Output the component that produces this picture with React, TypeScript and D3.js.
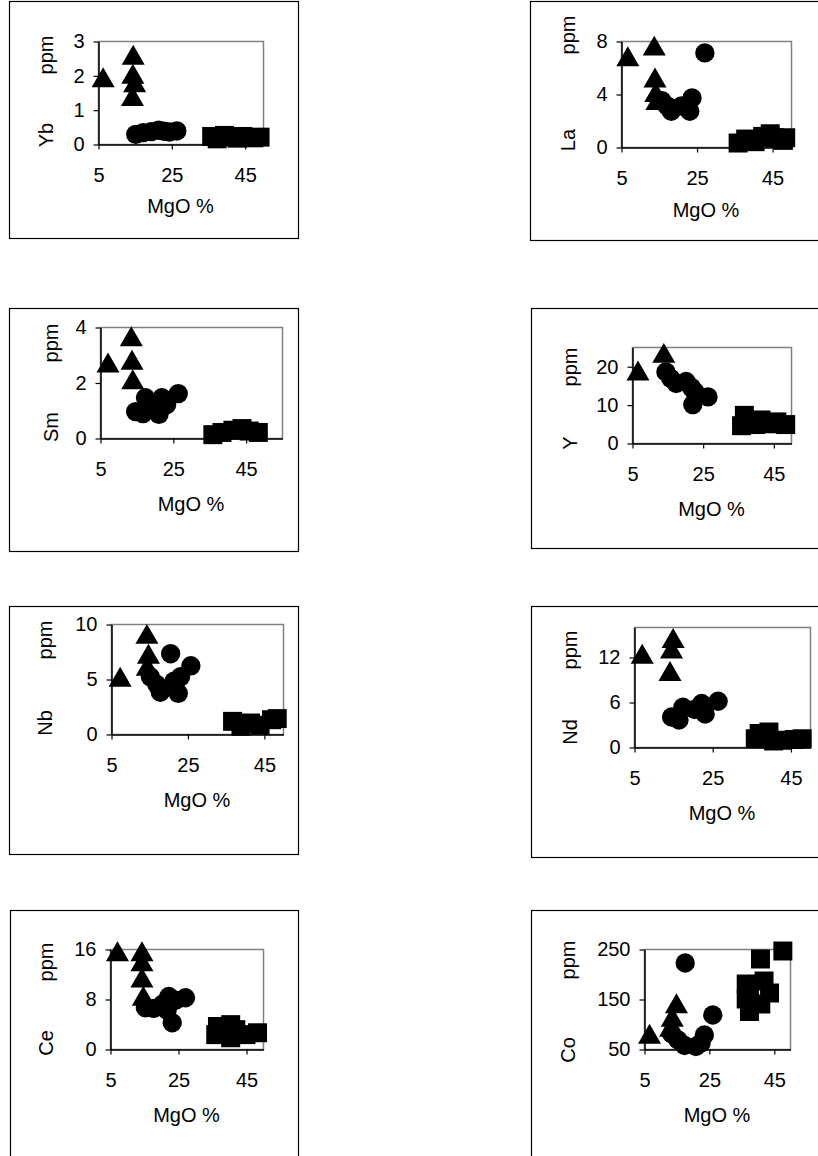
import React, { useEffect, useRef } from 'react';
import * as d3 from 'd3';

// [MgO %, ppm] pairs
const ybTriangles = [[6.4, 1.85], [14.6, 2.5], [14.5, 1.95], [15, 1.7], [14.4, 1.3]];
const ybCircles = [[15.3, 0.28], [17.3, 0.33], [19.5, 0.36], [21.5, 0.4], [23, 0.37], [24.5, 0.35], [26.5, 0.38]];
const ybSquares = [[36, 0.22], [37.5, 0.15], [39.5, 0.25], [41.5, 0.2], [43, 0.17], [44.5, 0.22], [47.5, 0.18], [49.2, 0.2]];

const laTriangles = [[6.8, 6.6], [13.8, 7.4], [14, 5.0], [14.2, 3.9], [14.5, 3.3]];
const laCircles = [[15.8, 3.5], [17.2, 3.1], [18.3, 2.7], [21, 3.1], [23.2, 2.7], [23.8, 3.7], [27.2, 7.1]];
const laSquares = [[36, 0.3], [38, 0.6], [40.5, 0.4], [42.5, 0.8], [44.5, 1.0], [45.5, 0.7], [48, 0.5], [48.6, 0.7]];

const smTriangles = [[7.2, 2.6], [13.6, 3.55], [13.8, 2.7], [14, 2.0]];
const smCircles = [[14.8, 0.95], [16.8, 0.88], [17.5, 1.45], [19.5, 1.2], [21.2, 0.85], [22, 1.45], [23.3, 1.2], [26.5, 1.6]];
const smSquares = [[36, 0.12], [38.5, 0.2], [41.5, 0.28], [44, 0.34], [46, 0.25], [48.5, 0.2]];

const yTriangles = [[6.7, 18], [14, 22.6]];
const yCircles = [[14.6, 18.5], [16, 16.8], [17.5, 15.5], [20.3, 16], [21.8, 14.5], [22.8, 13.3], [22.2, 10], [26.5, 12]];
const ySquares = [[36, 4.5], [36.8, 7.2], [38, 5.5], [40, 4.8], [41.5, 6], [43.6, 5], [46, 5.5], [48.5, 4.8]];

const nbTriangles = [[7.4, 4.9], [14.4, 8.8], [14.8, 7.0], [14.5, 5.9]];
const nbCircles = [[15.3, 5.2], [17, 4.5], [17.9, 3.8], [20.6, 7.3], [21.5, 4.8], [22.6, 3.7], [23.2, 5.2], [25.9, 6.2]];
const nbSquares = [[36.8, 1.15], [39, 0.7], [41.5, 1.0], [44, 0.8], [47, 1.3], [48.5, 1.4]];

const ndTriangles = [[7.1, 12], [15, 14.1], [14.6, 12.7], [14.2, 9.7]];
const ndCircles = [[14.6, 4.0], [16.5, 3.6], [17.5, 5.3], [20.5, 5.0], [22.3, 5.8], [23.2, 4.4], [26.5, 6.1]];
const ndSquares = [[36, 1.1], [37, 1.8], [39.5, 2.0], [40.7, 0.8], [42.9, 0.9], [46, 1.0], [48, 1.1]];

const ceTriangles = [[7.2, 15.1], [14.4, 15.1], [14.4, 13.5], [14.4, 10.9], [14.8, 8]];
const ceCircles = [[15.4, 6.6], [17.8, 6.5], [20.5, 7.2], [22.3, 8.4], [23.3, 4.2], [24.3, 7.8], [27.2, 8.2], [21.8, 6.2]];
const ceSquares = [[36.1, 2.3], [36.6, 3.6], [40.5, 3.9], [40.5, 1.8], [42, 3.1], [45, 2.3], [48.4, 2.6]];

const coTriangles = [[6.7, 74], [15, 135], [13.7, 108], [13.2, 88]];
const coCircles = [[17.7, 222], [26.2, 118], [13.6, 80], [15.5, 68], [17.5, 57], [21, 55], [22.6, 62], [23.6, 78]];
const coSquares = [[40.9, 230], [47.8, 246], [36.5, 180], [36.5, 150], [37.5, 125], [41, 140], [42, 186], [43.7, 162], [37.5, 165]];

const xTicks = [5, 25, 45];
const elements = ['Yb', 'La', 'Sm', 'Y', 'Nb', 'Nd', 'Ce', 'Co'];
const yDomains = [[0, 3], [0, 8], [0, 4], [0, 25], [0, 10], [0, 16], [0, 16], [50, 250]];
const yTicks = [[0, 1, 2, 3], [0, 4, 8], [0, 2, 4], [0, 10, 20], [0, 5, 10], [0, 6, 12], [0, 8, 16], [50, 150, 250]];
const xMax = [50, 50, 55, 50, 50, 50, 50, 50];
const triangles = [ybTriangles, laTriangles, smTriangles, yTriangles, nbTriangles, ndTriangles, ceTriangles, coTriangles];
const circles = [ybCircles, laCircles, smCircles, yCircles, nbCircles, ndCircles, ceCircles, coCircles];
const squares = [ybSquares, laSquares, smSquares, ySquares, nbSquares, ndSquares, ceSquares, coSquares];

// page layout of each little chart: outer box, plot area, axis title spots
const layout = [
  { box: [9, 1, 298, 238], plot: [98, 41, 263, 144], tx: 48, ppmY: 55, elY: 135, titleDy: 64 },
  { box: [530, 1, 822, 240], plot: [621, 41, 791, 147], tx: 570, ppmY: 35, elY: 140, titleDy: 65 },
  { box: [9, 308, 298, 551], plot: [100, 327, 282, 438], tx: 53, ppmY: 343, elY: 427, titleDy: 68 },
  { box: [531, 308, 822, 548], plot: [632, 347, 791, 443], tx: 572, ppmY: 367, elY: 443, titleDy: 68 },
  { box: [9, 606, 298, 854], plot: [111, 624, 283, 734], tx: 47, ppmY: 640, elY: 723, titleDy: 68 },
  { box: [531, 606, 822, 857], plot: [634, 627, 810, 747], tx: 572, ppmY: 650, elY: 732, titleDy: 68 },
  { box: [10, 910, 298, 1170], plot: [110, 949, 263, 1049], tx: 48, ppmY: 962, elY: 1043, titleDy: 68 },
  { box: [531, 910, 822, 1170], plot: [644, 949, 790, 1049], tx: 570, ppmY: 960, elY: 1050, titleDy: 68 },
];

const FONT = '"Liberation Sans", Arial, sans-serif';
const FS = 20;

const App = () => {
  const ref = useRef<SVGSVGElement | null>(null);

  useEffect(() => {
    const svg = d3.select(ref.current);
    svg.selectAll('*').remove();

    const tri = d3.symbol().type(d3.symbolTriangle).size(230)();
    const circ = d3.symbol().type(d3.symbolCircle).size(295)();
    const sq = d3.symbol().type(d3.symbolSquare).size(360)();

    elements.forEach((el, i) => {
      const L = layout[i];
      const [bx0, by0, bx1, by1] = L.box;
      const [px0, py0, px1, py1] = L.plot;

      svg.append('rect')
        .attr('x', bx0 + 0.5).attr('y', by0 + 0.5)
        .attr('width', bx1 - bx0).attr('height', by1 - by0)
        .attr('fill', '#fff').attr('stroke', '#000').attr('stroke-width', 1.2);

      const x = d3.scaleLinear().domain([5, xMax[i]]).range([px0, px1]);
      const y = d3.scaleLinear().domain(yDomains[i]).range([py1, py0]);

      const g = svg.append('g');

      g.append('rect')
        .attr('x', px0 + 0.5).attr('y', py0 + 0.5)
        .attr('width', px1 - px0).attr('height', py1 - py0)
        .attr('fill', 'none').attr('stroke', '#808080').attr('stroke-width', 1.5);

      const xAxis = g.append('g')
        .attr('transform', `translate(0.5,${py1 + 0.5})`)
        .call(d3.axisBottom(x).tickValues(xTicks).tickSize(5).tickSizeOuter(0).tickPadding(18).tickFormat(d3.format('d')));
      const yAxis = g.append('g')
        .attr('transform', `translate(${px0 + 0.5},0.5)`)
        .call(d3.axisLeft(y).tickValues(yTicks[i]).tickSize(5).tickSizeOuter(0).tickPadding(9).tickFormat(d3.format('d')));

      [xAxis, yAxis].forEach((a) => {
        a.select('.domain').attr('stroke', '#000').attr('stroke-width', 1.5);
        a.selectAll('.tick line').attr('stroke', '#000').attr('stroke-width', 1.2);
        a.selectAll('.tick text').attr('font-family', FONT).attr('font-size', FS).attr('fill', '#000');
      });

      const marks = g.append('g');
      const draw = (pts: number[][], path: string | null) => {
        marks.selectAll(null).data(pts).enter().append('path')
          .attr('d', path)
          .attr('transform', (d) => `translate(${x(d[0])},${y(d[1])})`)
          .attr('fill', '#000');
      };
      draw(triangles[i], tri);
      draw(circles[i], circ);
      draw(squares[i], sq);

      g.append('text')
        .attr('x', (px0 + px1) / 2).attr('y', py1 + L.titleDy)
        .attr('text-anchor', 'middle').attr('dominant-baseline', 'middle')
        .attr('font-family', FONT).attr('font-size', FS)
        .text('MgO %');

      [['ppm', L.ppmY], [el, L.elY]].forEach(([t, cy]) => {
        g.append('text')
          .attr('transform', `translate(${L.tx},${cy}) rotate(-90)`)
          .attr('text-anchor', 'middle').attr('dominant-baseline', 'middle')
          .attr('font-family', FONT).attr('font-size', FS)
          .text(t as string);
      });
    });
  }, []);

  return (
    <svg
      ref={ref}
      width={818}
      height={1156}
      style={{ position: 'absolute', left: 0, top: 0, background: '#fff' }}
    />
  );
};

export default App;
